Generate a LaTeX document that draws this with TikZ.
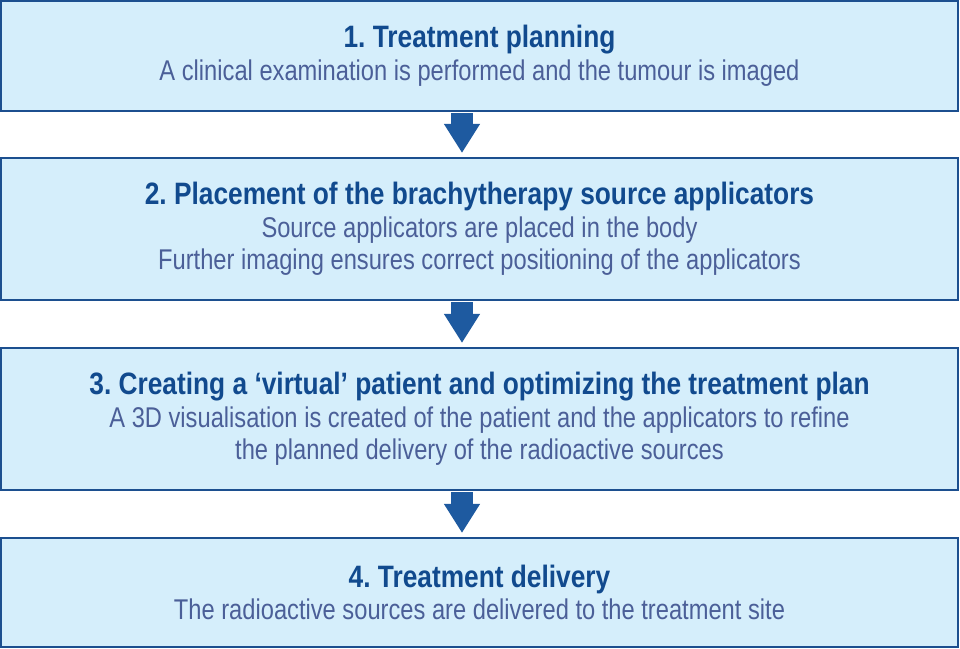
\documentclass[tikz,border=0pt]{standalone}
\usepackage{fontspec}
\setmainfont{Liberation Sans}[FakeStretch=0.83]
\newfontfamily\titlefont{Liberation Sans}[FakeStretch=0.85]
\usetikzlibrary{arrows.meta}
\frenchspacing

\definecolor{boxfill}{HTML}{D5EEFB}
\definecolor{boxline}{HTML}{1C4F8F}
\definecolor{titleblue}{HTML}{114A8E}
\definecolor{bodyblue}{HTML}{4B5F98}
\definecolor{arrowblue}{HTML}{1E5AA0}

\newcommand{\steptitle}[1]{{\titlefont\fontsize{22pt}{23.2pt}\selectfont\bfseries\color{titleblue}#1}}

\begin{document}
\begin{tikzpicture}[x=0.025cm,y=-0.025cm,
        stepbox/.style={draw=boxline,fill=boxfill,line width=0.05cm,
            minimum width=23.9cm,align=center,inner sep=0pt,
            font=\fontsize{20.3pt}{23.2pt}\selectfont,text=bodyblue},
        flow/.style={draw=arrowblue,line width=0.525cm,
            -{Triangle[length=0.725cm,width=0.85cm]},
            shorten <=0.025cm,shorten >=0.1cm}]
            \useasboundingbox (0,0) rectangle (960,649);

            \node[stepbox,minimum height=2.75cm] (plan) at (479.5,56)
                {\steptitle{1. Treatment planning}\\
                A clinical examination is performed and the tumour is imaged};
            \node[stepbox,minimum height=3.55cm] (place) at (479.5,229)
                {\steptitle{2. Placement of the brachytherapy source applicators}\\
                Source applicators are placed in the body\\
                Further imaging ensures correct positioning of the applicators};
            \node[stepbox,minimum height=3.55cm] (virtual) at (479.5,419)
                {\steptitle{3. Creating a ‘virtual’ patient and optimizing the treatment plan}\\
                A 3D visualisation is created of the patient and the applicators to refine\\
                the planned delivery of the radioactive sources};
            \node[stepbox,minimum height=2.725cm] (deliver) at (479.5,592.5)
                {\steptitle{4. Treatment delivery}\\
                The radioactive sources are delivered to the treatment site};

            \draw[flow] ([xshift=-0.4375cm]plan.south) -- ([xshift=-0.4375cm]place.north);
            \draw[flow] ([xshift=-0.4375cm]place.south) -- ([xshift=-0.4375cm]virtual.north);
            \draw[flow] ([xshift=-0.4375cm]virtual.south) -- ([xshift=-0.4375cm]deliver.north);
        \end{tikzpicture}
\end{document}
